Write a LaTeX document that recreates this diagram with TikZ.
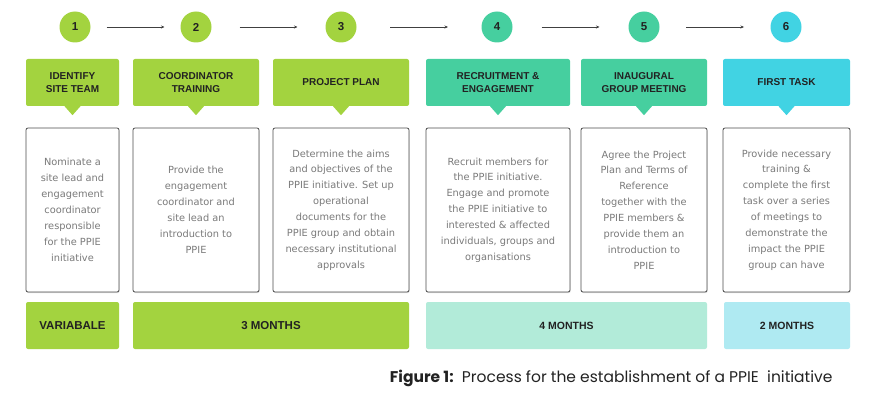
\documentclass[tikz,border=0pt]{standalone}
\usepackage{fontspec}
\setmainfont{DejaVu Sans}
\newfontfamily\headfont{Liberation Sans}
\newfontfamily\capfont{Poppins}
\usepackage{tikz}
\usetikzlibrary{arrows.meta,calc,positioning,shadows}
\definecolor{limeg}{HTML}{A3D33F}
\definecolor{mintg}{HTML}{46CF9F}
\definecolor{cyang}{HTML}{41D3E3}
\definecolor{mintl}{HTML}{B2EBD9}
\definecolor{cyanl}{HTML}{AFEAF2}
\definecolor{bodygray}{HTML}{7A7A7A}
\definecolor{inkdark}{HTML}{222222}

\begin{document}
\begin{tikzpicture}[x=1pt, y=-1pt, >={Stealth[length=3.5pt,width=3pt]},
    num/.style={circle, minimum size=31pt, inner sep=0pt, text=inkdark,
                font=\headfont\bfseries\fontsize{11.5}{13}\selectfont},
    head/.style={rounded corners=2pt, minimum height=47pt, inner sep=0pt,
                 align=center, text=inkdark,
                 font=\headfont\bfseries\fontsize{10}{13}\selectfont},
    body/.style={draw=black!70, line width=0.8pt, rounded corners=2pt, fill=white,
                 minimum height=164pt, inner sep=0pt, align=center, text=bodygray,
                 font=\fontsize{9.8}{15.9}\selectfont,
                 drop shadow={shadow xshift=0.6pt, shadow yshift=-1.2pt, opacity=0.25}},
    bar/.style={rounded corners=2pt, minimum height=47pt, inner sep=0pt, text=inkdark,
                font=\headfont\bfseries\fontsize{11.5}{13}\selectfont}]
\useasboundingbox (0,0) rectangle (877,393);
\foreach \i/\cx/\lx/\rx/\col/\hd/\txt in {
  1/75/26/119/limeg/{IDENTIFY\\SITE TEAM}/{Nominate a\\site lead and\\engagement\\coordinator\\responsible\\for the PPIE\\initiative},
  2/196/133/259/limeg/{COORDINATOR\\TRAINING}/{Provide the\\engagement\\coordinator and\\site lead an\\introduction to\\PPIE},
  3/341/273/409/limeg/{PROJECT PLAN}/{Determine the aims\\and objectives of the\\PPIE initiative. Set up\\operational\\documents for the\\PPIE group and obtain\\necessary institutional\\approvals},
  4/497/426/570/mintg/{RECRUITMENT \&\\ENGAGEMENT}/{Recruit members for\\the PPIE initiative.\\Engage and promote\\the PPIE initiative to\\interested \& affected\\individuals, groups and\\organisations},
  5/644/581/707/mintg/{INAUGURAL\\GROUP MEETING}/{Agree the Project\\Plan and Terms of\\Reference\\together with the\\PPIE members \&\\provide them an\\introduction to\\PPIE},
  6/786/723/850/cyang/{FIRST TASK}/{Provide necessary\\training \&\\complete the first\\task over a series\\of meetings to\\demonstrate the\\impact the PPIE\\group can have}} {
  \node[num, fill=\col] (c\i) at (\cx,27) {\i};
  \node[head, fill=\col, minimum width={(\rx-\lx)*1pt}] (h\i) at ({(\lx+\rx)/2},82.5) {\hd};
  \fill[\col] ([xshift=-8pt]h\i.south) -- ([xshift=8pt]h\i.south) -- ([yshift=-9pt]h\i.south) -- cycle;
  \node[body, minimum width={(\rx-\lx)*1pt}] (b\i) at ({(\lx+\rx)/2},210) {\txt};
}
\foreach \i [evaluate=\i as \j using int(\i+1)] in {1,...,5}
  \draw[->, line width=0.6pt, black!75] ([xshift=-29pt]$(c\i)!0.5!(c\j)$) -- ([xshift=29pt]$(c\i)!0.5!(c\j)$);
\node[bar, fill=limeg, minimum width=93pt] (t1) at (72.5,325.5) {VARIABALE};
\node[bar, fill=limeg, minimum width=276pt] (t2) at (271,325.5) {3 MONTHS};
\node[bar, fill=mintl, minimum width=281pt, font=\headfont\bfseries\fontsize{10.5}{13}\selectfont] (t3) at (566.5,325.5) {4 MONTHS};
\node[bar, fill=cyanl, minimum width=126pt, font=\headfont\bfseries\fontsize{10.5}{13}\selectfont] (t4) at (787,325.5) {2 MONTHS};
\node[anchor=base east, text=inkdark, font=\capfont\fontsize{15.5}{18}\selectfont] (cap) at (836,382)
  {\textbf{Figure 1:}\ \ Process for the establishment of a PPIE\ \ initiative};
\end{tikzpicture}
\end{document}
